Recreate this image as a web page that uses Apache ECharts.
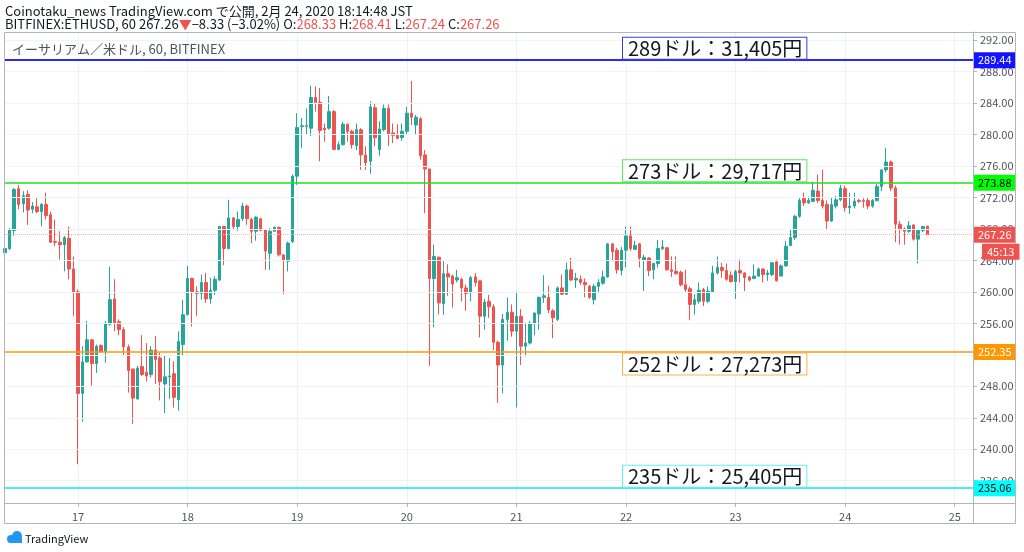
<!DOCTYPE html>
<html><head><meta charset="utf-8">
<script src="https://cdn.jsdelivr.net/npm/echarts@6/dist/echarts.min.js"></script>
<style>html,body{margin:0;padding:0;background:#fff}#c{width:1024px;height:552px}</style>
</head><body><div id="c"></div>
<script>
// Hourly candles, first candle = Feb 16 08:00 JST
const opens = [265.0,265.5,267.8,273.1,271.2,272.4,270.5,270.8,270.2,271.1,269.8,266.4,266.3,266.0,266.8,262.9,260.0,247.1,251.1,253.9,
250.9,253.2,252.4,255.9,259.1,256.2,255.2,253.0,250.2,246.4,250.5,249.8,249.5,252.6,251.6,248.3,249.2,249.6,246.3,253.3,
257.1,261.7,260.0,259.8,261.2,259.1,260.2,261.5,268.3,265.5,269.4,268.3,269.3,270.9,269.2,267.7,269.3,267.9,264.9,267.7,
268.2,264.7,263.9,266.4,274.7,281.0,281.0,280.8,284.7,284.1,280.8,280.8,282.9,278.1,278.7,281.3,280.4,278.6,280.6,277.4,
276.6,283.4,278.1,280.6,283.3,280.2,279.9,279.6,280.4,282.7,281.2,282.0,277.4,275.6,261.7,264.4,258.5,262.3,262.0,261.5,
261.6,260.5,259.9,261.9,261.4,256.9,258.8,258.1,253.6,250.7,256.5,257.4,255.0,256.9,253.1,253.5,256.0,257.2,259.3,259.3,
257.6,256.5,260.5,259.7,262.8,261.5,261.6,261.2,260.7,259.0,260.7,261.1,261.9,266.1,265.3,262.7,265.3,267.1,265.4,266.1,
264.0,264.3,262.8,263.6,265.5,265.6,262.8,262.6,262.5,260.9,260.4,258.4,258.8,260.3,258.8,260.0,262.4,263.1,262.7,262.1,
261.3,262.7,262.4,261.9,261.7,262.0,262.9,262.2,262.2,263.8,262.0,263.3,265.9,266.9,269.6,271.9,271.3,271.5,272.8,271.6,
271.1,269.0,270.9,271.7,273.1,270.7,270.9,271.6,271.6,271.6,270.9,271.6,273.4,275.5,276.5,273.2,268.6,268.0,267.7,268.5,
266.7,267.8,268.33];
const closes = [265.5,267.9,273.0,271.1,272.2,270.4,270.9,270.2,271.1,269.7,266.3,266.3,266.0,266.9,262.9,260.0,247.1,251.1,253.9,250.9,
253.1,252.4,256.0,259.0,256.1,255.2,253.0,250.0,246.5,250.3,249.5,249.3,252.6,251.4,248.6,249.2,249.3,246.6,253.7,257.1,
261.7,260.0,259.8,261.2,259.1,260.2,261.6,268.3,265.5,269.4,268.3,269.2,270.9,269.3,267.7,269.5,267.8,265.2,267.7,268.2,
264.7,264.0,266.2,274.7,280.9,281.1,281.1,284.7,284.1,280.5,280.6,282.9,278.1,278.7,281.3,280.4,278.7,280.6,277.4,276.4,
283.5,279.6,280.7,283.3,280.0,279.9,279.5,280.4,282.7,282.2,282.2,277.3,275.6,261.7,264.5,258.6,262.3,261.9,261.0,261.8,
260.5,259.8,261.8,261.2,256.9,258.7,258.1,253.6,250.7,256.5,257.4,255.0,256.9,253.1,253.5,256.0,257.3,259.3,259.5,257.7,
256.7,260.5,259.7,262.8,261.5,261.7,261.2,260.9,259.3,260.7,261.2,261.9,266.1,265.1,262.8,265.3,267.1,265.5,265.9,264.3,
264.4,262.7,263.6,265.5,265.7,262.8,262.6,262.3,260.9,260.3,258.4,259.0,260.2,258.8,260.1,262.4,263.1,262.7,261.6,261.3,
262.6,262.4,261.8,261.5,262.0,262.9,262.2,262.4,263.7,261.4,263.3,265.8,266.9,269.6,271.6,271.3,271.6,272.9,271.6,270.9,
269.0,271.1,271.7,273.2,270.7,270.9,271.5,271.5,271.5,270.9,271.6,273.4,275.5,276.5,273.2,268.6,268.0,267.7,268.4,266.7,
267.8,268.3,267.26];
const lows = [256.8,265.3,267.1,270.5,270.1,268.5,270.0,270.0,268.3,269.2,266.2,265.8,264.1,262.6,261.6,256.9,238.1,243.5,251.0,248.1,
249.7,252.3,251.0,255.7,255.0,254.5,251.9,247.2,243.2,246.3,249.3,248.6,249.1,248.3,246.2,244.6,246.4,245.3,244.9,251.9,
257.0,255.6,256.9,259.0,258.6,258.5,259.6,261.4,263.4,265.4,268.0,267.7,269.0,268.5,266.2,266.5,267.7,262.8,262.8,267.7,
264.5,259.7,262.6,266.2,273.6,278.3,280.0,279.8,282.9,276.6,279.1,280.6,278.0,278.0,278.6,279.1,278.2,278.0,275.5,275.5,
275.0,278.5,277.3,280.4,278.5,278.9,279.4,279.2,280.0,281.2,280.0,276.8,270.0,250.6,255.5,257.1,257.1,259.5,258.0,261.2,
258.8,257.6,258.8,260.7,254.2,255.2,256.7,252.6,245.9,247.1,253.8,254.3,245.3,250.7,251.8,253.3,254.5,255.2,258.6,257.3,
254.1,256.3,259.6,259.6,261.4,260.5,260.9,259.3,259.1,258.4,260.0,260.9,261.8,263.9,262.3,262.1,263.1,265.2,265.3,263.1,
260.1,262.0,261.6,263.1,265.3,262.7,261.9,262.2,260.7,259.9,256.4,257.1,258.5,258.2,258.6,259.9,262.2,261.8,261.4,261.2,
259.1,261.2,260.1,261.3,261.6,261.9,261.2,261.4,262.0,261.3,262.0,263.2,265.8,266.6,269.4,270.9,271.2,271.4,271.3,270.6,
268.0,268.9,270.6,271.5,270.2,269.9,270.6,271.3,270.7,270.5,270.7,271.5,272.8,275.2,272.8,266.3,266.0,266.0,267.5,266.5,
263.6,267.6,267.24];
const highs = [265.9,268.1,273.2,273.6,272.8,272.9,271.4,271.9,271.3,272.6,270.2,269.2,267.7,267.1,268.3,264.5,260.3,253.1,256.3,254.0,
253.3,253.3,256.3,263.2,261.6,256.5,255.5,253.3,250.2,250.6,254.5,253.5,253.1,254.4,252.3,251.9,251.6,251.2,255.0,259.0,
263.3,261.8,260.7,262.2,262.4,261.8,262.0,268.4,268.4,271.7,269.5,270.2,271.3,271.1,269.4,269.6,269.3,267.9,268.1,268.3,
268.3,264.7,266.4,274.9,282.7,282.1,283.3,286.2,286.1,285.9,281.4,284.9,283.1,279.1,281.6,281.4,280.6,281.4,280.8,278.5,
284.2,283.9,281.7,283.8,283.8,281.4,281.3,281.4,283.5,286.8,282.5,282.2,278.0,275.7,266.0,264.5,263.9,263.5,262.2,262.8,
261.8,260.9,262.0,262.4,261.4,259.1,259.6,258.4,253.8,257.2,259.3,258.4,260.0,257.8,256.1,256.3,257.4,259.4,262.1,260.8,
257.8,260.7,262.2,263.7,264.3,262.4,262.1,261.7,260.9,261.0,261.6,262.7,266.2,266.2,265.6,265.7,268.3,268.3,266.5,266.2,
264.7,264.4,263.7,266.6,266.6,265.7,264.5,264.5,262.7,262.8,260.7,259.7,261.2,260.5,260.7,263.3,264.5,263.7,263.6,262.6,
262.8,264.1,262.5,262.0,263.5,263.1,263.0,262.8,263.7,264.1,263.5,266.5,267.9,269.8,271.9,272.6,272.1,274.0,274.9,275.5,
271.6,272.0,272.2,273.6,273.5,272.6,272.6,271.8,271.9,271.9,271.8,273.7,275.6,278.3,276.7,273.5,269.0,268.2,269.0,268.6,
268.0,268.4,268.41];

const startDay = 16, startHour = 8, emptySlots = 10;
const yTicks = [236,240,244,248,252,256,260,264,268,272,276,280,284,288,292];
const yMin = 233.17, yMax = 293.02;
const levels = [
  {value: 289.44, line: '#2a2aff', bg: '#1414ff', fg: '#ffffff', width: 2},
  {value: 273.88, line: '#1fe01f', bg: '#00ff00', fg: '#000000', width: 1.5},
  {value: 252.35, line: '#ff9a0a', bg: '#ff9800', fg: '#ffffff', width: 1.5},
  {value: 235.06, line: '#12e4ee', bg: '#00ffff', fg: '#000000', width: 1.5}
];
const notes = [
  {text: '289ドル：31,405円', level: 289.44, border: '#3a3ae8', above: true},
  {text: '273ドル：29,717円', level: 273.88, border: '#5fe85f', above: true},
  {text: '252ドル：27,273円', level: 252.35, border: '#ffb04a', above: false},
  {text: '235ドル：25,405円', level: 235.06, border: '#5ff0f5', above: true}
];
const lastPrice = 267.26;
const countdown = '45:13';
const headerLine1 = 'Coinotaku_news TradingView.com で公開, 2月 24, 2020 18:14:48 JST';
const legendText = 'イーサリアム／米ドル, 60, BITFINEX';

const UP = '#26a69a', DOWN = '#ef5350';
const FONT = '"Noto Sans CJK JP", "Noto Sans", sans-serif';

const total = opens.length + emptySlots;
const cats = [];
for (let k = 0; k < total; k++) {
  const h = startHour + k;
  const d = startDay + Math.floor(h / 24);
  cats.push(d + ' ' + String(h % 24).padStart(2, '0') + ':00');
}
const candles = opens.map((o, i) => [o, closes[i], lows[i], highs[i]]);
const isDay = (idx, v) => typeof v === 'string' ? v.endsWith(' 00:00') : cats[idx].endsWith(' 00:00');

const markData = [];
yTicks.forEach(t => markData.push({yAxis: t, lineStyle: {color: '#f0f3fa', width: 1, type: 'solid'}, label: {show: false}}));
markData.push({yAxis: lastPrice, lineStyle: {color: '#f6b3b1', width: 1, type: 'dotted'},
  label: {show: true, position: 'end', distance: 1, formatter: () => lastPrice.toFixed(2), backgroundColor: DOWN, color: '#fff', padding: [3, 4, 2, 4], fontSize: 11, fontFamily: FONT}});
levels.forEach(l => markData.push({yAxis: l.value, lineStyle: {color: l.line, width: l.width, type: 'solid'},
  label: {show: true, position: 'end', distance: 1, formatter: () => l.value.toFixed(2), backgroundColor: l.bg, color: l.fg, padding: [3, 4, 2, 4], fontSize: 11, fontFamily: FONT}}));

const chart = echarts.init(document.getElementById('c'), null, {renderer: 'canvas'});
const option = {
  animation: false,
  backgroundColor: '#ffffff',
  grid: {left: 5, right: 51, top: 32, bottom: 49, containLabel: false},
  xAxis: {
    type: 'category', data: cats, boundaryGap: false,
    axisLine: {show: true, lineStyle: {color: '#b2b5be'}},
    axisTick: {show: true, interval: isDay, length: 4, lineStyle: {color: '#b2b5be'}},
    axisLabel: {interval: isDay, formatter: v => v.split(' ')[0], color: '#50535e', fontSize: 11, margin: 8, fontFamily: FONT},
    splitLine: {show: true, interval: isDay, lineStyle: {color: '#eef1f6', width: 1}}
  },
  yAxis: {
    type: 'value', position: 'right', min: yMin, max: yMax, scale: true,
    axisLine: {show: true, lineStyle: {color: '#b2b5be'}},
    axisTick: {show: true, customValues: yTicks, length: 4, lineStyle: {color: '#b2b5be'}},
    axisLabel: {customValues: yTicks, formatter: v => v.toFixed(2), color: '#50535e', fontSize: 11, margin: 7, fontFamily: FONT},
    splitLine: {show: false}
  },
  series: [{
    type: 'candlestick', data: candles, barWidth: 3,
    itemStyle: {color: UP, color0: DOWN, borderColor: UP, borderColor0: DOWN, borderWidth: 1},
    markLine: {silent: true, symbol: ['none', 'none'], animation: false, data: markData}
  }]
};
chart.setOption(option);

const gfx = [
  {type: 'rect', shape: {x: 4.5, y: 32.5, width: 1011, height: 491}, style: {fill: 'none', stroke: '#b2b5be', lineWidth: 1}, z: 50, silent: true},
  {type: 'line', shape: {x1: 973.5, y1: 503, x2: 973.5, y2: 524}, style: {stroke: '#b2b5be', lineWidth: 1}, z: 50},
  {type: 'line', shape: {x1: 973, y1: 503.5, x2: 1016, y2: 503.5}, style: {stroke: '#b2b5be', lineWidth: 1}, z: 50},
  {type: 'text', x: 5, y: 11, style: {text: headerLine1, font: '13px ' + FONT, fill: '#131722', verticalAlign: 'middle', textVerticalAlign: 'middle'}, z: 50},
  {type: 'text', x: 5, y: 24, style: {
    text: '{a|BITFINEX:ETHUSD, 60 267.26}{r|▼}{a|−8.33 (−3.02%) O:}{r|268.33}{a| H:}{r|268.41}{a| L:}{r|267.24}{a| C:}{r|267.26}',
    rich: {a: {fill: '#131722', color: '#131722', font: '13px ' + FONT}, r: {fill: DOWN, color: DOWN, font: '13px ' + FONT}},
    verticalAlign: 'middle', textVerticalAlign: 'middle'}, z: 50},
  {type: 'text', x: 12, y: 49, style: {text: legendText, font: '13px ' + FONT, fill: '#50535e', verticalAlign: 'middle', textVerticalAlign: 'middle'}, z: 50},
  {type: 'circle', shape: {cx: 11, cy: 539, r: 4}, style: {fill: '#2196f3'}, z: 50},
  {type: 'circle', shape: {cx: 17, cy: 536, r: 5}, style: {fill: '#2196f3'}, z: 50},
  {type: 'rect', shape: {x: 9, y: 538, width: 13, height: 5}, style: {fill: '#2196f3'}, z: 50},
  {type: 'text', x: 25, y: 539, style: {text: 'TradingView', font: '11px ' + FONT, fill: '#131722', verticalAlign: 'middle', textVerticalAlign: 'middle'}, z: 50}
];
const lastY = chart.convertToPixel({yAxisIndex: 0}, lastPrice);
gfx.push({type: 'text', x: 982, y: lastY + 17, style: {text: countdown, font: '11px ' + FONT, fill: '#fff',
  backgroundColor: DOWN, padding: [3, 5, 2, 5], verticalAlign: 'middle', textVerticalAlign: 'middle'}, z: 60});
notes.forEach(n => {
  const ly = chart.convertToPixel({yAxisIndex: 0}, n.level);
  gfx.push({type: 'text', x: 623, y: n.above ? ly - 1.5 : ly + 1.5, z: 40, style: {
    text: n.text, font: '20px ' + FONT, fill: '#131722', backgroundColor: '#ffffff',
    borderColor: n.border, borderWidth: 1, padding: [1, 4, 0, 5],
    verticalAlign: n.above ? 'bottom' : 'top', textVerticalAlign: n.above ? 'bottom' : 'top'}});
});
chart.setOption({graphic: gfx}, {replaceMerge: ['graphic']});
</script></body></html>
